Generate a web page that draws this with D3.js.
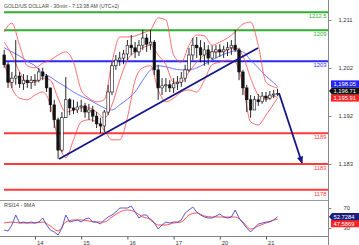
<!DOCTYPE html>
<html><head><meta charset="utf-8">
<script src="https://cdn.jsdelivr.net/npm/d3@7"></script>
<style>body{margin:0;background:#fff;} svg{display:block;font-family:"Liberation Sans",Arial,sans-serif;}</style>
</head><body><svg id="c" width="359" height="245"></svg>
<script>
const title = "GOLD/US DOLLAR - 30min - 7:13:38 AM (UTC+2)";
const rsiTitle = "RSI14 - 9MA";
const dayTicks = [0, 24, 48, 72, 96, 120];
const dayLabels = ["14", "15", "16", "17", "20", "21"];
const priceTicks = [1211, 1201.67, 1192.33, 1183];
const priceTickLabels = ["1,211", "1,202", "1,192", "1,183"];
const rsiTicks = [70, 30];
const rsiTickLabels = ["70", "30"];

const levels = [1212.5, 1209, 1203, 1189, 1183, 1178];
const levelLabels = ["1212.5", "1209", "1203", "1189", "1183", "1178"];
const levelKinds = ["res", "res", "pivot", "sup", "sup", "sup"];

const barTimes = [-16,-14,-12,-10,-8,-6,-4,-2,0,2,4,6,8,10,12,14,16,18,20,22,24,26,28,30,32,34,36,38,40,42,44,46,48,50,52,54,56,58,60,62,64,66,68,70,72,74,76,78,80,82,84,86,88,90,92,94,96,98,100,102,104,106,108,110,112,114,116,118,120,122,124,126];
const opens = [1204.2,1202.3,1198.9,1199.7,1200.1,1198.6,1199.3,1198.8,1199.3,1199.3,1200.9,1200.1,1197.8,1194.5,1191.6,1185.7,1192.0,1195.5,1193.9,1193.5,1194.1,1194.3,1193.1,1193.5,1192.3,1190.8,1190.4,1193.1,1197.0,1202.1,1203.2,1203.6,1204.4,1206.1,1205.6,1204.8,1206.1,1207.5,1206.3,1206.7,1201.3,1197.8,1198.2,1198.4,1197.8,1198.6,1198.9,1199.7,1201.3,1204.2,1206.1,1205.6,1204.2,1205.2,1203.6,1204.8,1205.2,1204.8,1205.2,1205.6,1206.1,1205.2,1200.9,1197.8,1195.5,1193.5,1195.5,1195.1,1196.2,1195.8,1196.4,1196.6];
const closes = [1202.3,1198.9,1199.7,1200.1,1198.6,1199.3,1198.8,1199.3,1199.3,1200.9,1200.1,1197.8,1194.5,1191.6,1185.7,1192.0,1195.5,1193.9,1193.5,1194.1,1194.3,1193.1,1193.5,1192.3,1190.8,1190.4,1193.1,1197.0,1202.1,1203.2,1203.6,1204.4,1206.1,1205.6,1204.8,1206.1,1207.5,1206.3,1206.7,1201.3,1197.8,1198.2,1198.4,1197.8,1198.6,1198.9,1199.7,1201.3,1204.2,1206.1,1205.6,1204.2,1205.2,1203.6,1204.8,1205.2,1204.8,1205.2,1205.6,1206.1,1205.2,1200.9,1197.8,1195.5,1193.5,1195.5,1195.1,1196.2,1195.8,1196.4,1196.6,1196.71];
const highs = [1205.2,1202.8,1200.9,1207.1,1200.9,1200.5,1200.3,1200.1,1200.5,1201.7,1201.7,1200.5,1197.8,1195.5,1192.0,1193.1,1199.9,1195.8,1195.5,1195.1,1195.5,1194.9,1194.7,1194.3,1193.1,1192.0,1193.5,1198.4,1202.8,1204.2,1204.8,1205.2,1207.1,1208.1,1206.7,1207.1,1209.1,1208.3,1209.1,1207.1,1202.3,1199.7,1199.7,1199.3,1199.7,1200.1,1200.9,1202.3,1205.6,1207.5,1207.7,1207.1,1206.7,1206.1,1206.0,1206.1,1206.3,1206.0,1206.7,1207.1,1209.1,1205.6,1201.3,1198.4,1196.4,1196.2,1196.6,1197.0,1197.0,1197.2,1197.4,1197.6];
const lows = [1201.7,1197.8,1197.8,1198.4,1197.8,1197.4,1197.8,1197.6,1198.2,1198.9,1199.3,1197.0,1193.1,1190.0,1184.0,1185.3,1192.0,1192.5,1192.7,1192.9,1193.1,1192.0,1191.6,1191.2,1190.0,1189.0,1189.2,1192.5,1196.4,1201.3,1202.1,1202.4,1203.2,1204.2,1203.6,1204.0,1205.2,1204.8,1205.2,1200.3,1195.5,1196.4,1197.0,1197.0,1196.8,1197.4,1198.0,1198.9,1200.9,1203.2,1203.6,1202.8,1202.1,1202.3,1203.2,1203.6,1203.8,1203.6,1204.0,1204.2,1204.8,1199.3,1196.4,1193.1,1192.0,1193.5,1194.3,1194.7,1195.1,1195.5,1195.8,1196.2];

const bandTimes = [-16,-12,-8,-4,0,4,8,12,16,20,24,28,32,36,40,44,48,52,56,60,64,68,72,76,80,84,88,92,96,100,104,108,112,116,120,124,126];
const bbUpper = [1208.7,1210.4,1206.1,1202.1,1201.7,1202.6,1203.2,1204.2,1204.8,1202.8,1197.4,1195.8,1195.1,1195.5,1202.8,1207.7,1207.7,1207.9,1208.5,1209.1,1211.4,1211.0,1204.2,1202.8,1206.1,1208.1,1207.9,1206.1,1206.7,1207.5,1208.7,1210.2,1210.6,1206.1,1198.9,1198.0,1197.8];
const bbMiddle = [1206.7,1204.2,1200.9,1198.9,1198.9,1199.7,1199.3,1195.8,1193.1,1193.5,1193.9,1193.9,1193.1,1191.9,1194.5,1199.3,1203.2,1204.8,1205.6,1206.1,1204.2,1202.3,1198.9,1198.9,1200.9,1202.8,1204.2,1204.8,1204.8,1205.2,1205.6,1204.0,1199.7,1196.4,1195.5,1196.2,1195.91];
const bbLower = [1202.8,1197.8,1195.8,1195.5,1196.4,1197.0,1194.5,1187.7,1184.2,1187.7,1191.2,1191.6,1191.2,1189.6,1187.7,1187.7,1192.0,1199.3,1201.7,1202.1,1197.4,1195.1,1195.8,1197.0,1197.4,1197.0,1199.3,1202.3,1202.8,1203.2,1202.8,1198.4,1191.2,1190.6,1192.5,1194.7,1195.8];
const maSlow = [1205.6,1204.8,1204.0,1203.0,1202.1,1200.7,1199.9,1198.9,1198.0,1197.0,1196.2,1195.5,1194.7,1193.9,1193.5,1194.5,1195.6,1197.0,1199.3,1201.3,1202.1,1201.9,1201.5,1201.3,1201.3,1201.7,1202.4,1203.2,1204.0,1204.6,1205.0,1204.8,1203.2,1201.7,1200.1,1198.8,1198.05];

const rsi = [26,24,36,56,40,42,40,42,40,42,50,36,26,22,16,30,56,42,44,46,42,48,50,42,42,38,46,52,56,62,70,70,70,74,62,50,56,56,46,40,28,36,42,40,42,42,46,60,66,72,62,56,52,50,50,54,58,52,50,52,66,50,40,30,22,30,38,40,42,42,46,52.7284];
const rsiMA = [40,42,40,40,40,42,34,24,42,46,46,44,42,42,52,62,66,62,52,48,36,36,40,42,56,60,54,52,52,52,52,42,28,34,40,46,47.5869];

const trendLine = [{t:12.5, p:1183.97}, {t:115.8, p:1205.56}];
const forecastArrow = [{t:126.75, p:1196.8}, {t:138.7, p:1183.2}];

const lastPrice = 1196.71, lastMA = 1198.05, lastMid = 1195.91;
const lastRSI = 52.7284, lastRSIMA = 47.5869;

// ---------- drawing ----------
const svg = d3.select("#c");
const plotR = 328;
const x = d3.scaleLinear().domain([-18.18, 152.21]).range([0, plotR]);
const y = d3.scaleLinear().domain([1176.0, 1214.89]).range([200, 0]);
const yr = d3.scaleLinear().domain([14, 86]).range([236, 200]);
const FONT = 5.8;
const colors = {res:"#2fae2f", pivot:"#2a2aff", sup:"#ff3b3b"};
const navy = "#15158a";

const defs = svg.append("defs");
defs.append("clipPath").attr("id","cm").append("rect").attr("x",0).attr("y",0).attr("width",plotR).attr("height",200);
defs.append("clipPath").attr("id","cr").append("rect").attr("x",0).attr("y",200).attr("width",plotR).attr("height",36);
defs.append("marker").attr("id","ah").attr("viewBox","0 0 10 10").attr("refX",9).attr("refY",5)
  .attr("markerWidth",8).attr("markerHeight",7).attr("markerUnits","userSpaceOnUse").attr("orient","auto")
  .append("path").attr("d","M0,0.5 L10,5 L0,9.5 Z").attr("fill",navy);

// title
svg.append("text").attr("x",4).attr("y",8.3).attr("font-size",6).attr("fill","#444")
  .attr("textLength",115).attr("lengthAdjust","spacingAndGlyphs").text(title);

const main = svg.append("g").attr("clip-path","url(#cm)");

// level lines
levels.forEach((v,i)=>{
  const c = colors[levelKinds[i]];
  main.append("line").attr("x1",4).attr("x2",plotR).attr("y1",y(v)).attr("y2",y(v))
    .attr("stroke",c).attr("stroke-width",2);
  svg.append("text").attr("x",plotR-1.5).attr("y",y(v)+6).attr("text-anchor","end")
    .attr("font-size",FONT).attr("fill",c).text(levelLabels[i]);
});

const bandData = arr => arr.map((v,i)=>({t:bandTimes[i], v}));
const lineP = d3.line().x(d=>x(d.t)).y(d=>y(d.v)).curve(d3.curveMonotoneX);

// slow MA
main.append("path").attr("d", lineP(bandData(maSlow))).attr("fill","none").attr("stroke","#6464ff").attr("stroke-width",0.9);
// Bollinger
[bbUpper, bbMiddle, bbLower].forEach(a=>{
  main.append("path").attr("d", lineP(bandData(a))).attr("fill","none").attr("stroke","#ff4a4a").attr("stroke-width",0.8);
});

// candles
const bars = barTimes.map((t,i)=>({t, o:opens[i], h:highs[i], l:lows[i], c:closes[i]}));
const cg = main.append("g");
cg.selectAll("line.w").data(bars).join("line").attr("class","w")
  .attr("x1",d=>x(d.t)).attr("x2",d=>x(d.t)).attr("y1",d=>y(d.h)).attr("y2",d=>y(d.l))
  .attr("stroke","#111").attr("stroke-width",0.9);
cg.selectAll("rect").data(bars).join("rect")
  .attr("x",d=>x(d.t)-1.3).attr("width",2.6)
  .attr("y",d=>y(Math.max(d.o,d.c))).attr("height",d=>Math.max(0.8, Math.abs(y(d.o)-y(d.c))))
  .attr("fill",d=>d.c>=d.o?"#fff":"#111").attr("stroke","#111").attr("stroke-width",0.6);

// trend line & forecast arrow
main.append("line").attr("x1",x(trendLine[0].t)).attr("y1",y(trendLine[0].p))
  .attr("x2",x(trendLine[1].t)).attr("y2",y(trendLine[1].p)).attr("stroke",navy).attr("stroke-width",1.8);
main.append("line").attr("x1",x(forecastArrow[0].t)).attr("y1",y(forecastArrow[0].p))
  .attr("x2",x(forecastArrow[1].t)).attr("y2",y(forecastArrow[1].p)).attr("stroke",navy).attr("stroke-width",1.8)
  .attr("marker-end","url(#ah)");

// panel frame lines
svg.append("line").attr("x1",0).attr("x2",plotR).attr("y1",200.5).attr("y2",200.5).attr("stroke","#999").attr("stroke-width",1);
svg.append("line").attr("x1",0).attr("x2",plotR).attr("y1",236.5).attr("y2",236.5).attr("stroke","#888").attr("stroke-width",1);
svg.append("line").attr("x1",plotR+0.5).attr("x2",plotR+0.5).attr("y1",0).attr("y2",245).attr("stroke","#888").attr("stroke-width",1);

// right price axis
const ay = svg.append("g").attr("transform",`translate(${plotR+0.5},0)`)
  .call(d3.axisRight(y).tickValues(priceTicks).tickSize(3).tickPadding(7).tickFormat((d,i)=>priceTickLabels[i]));
ay.select(".domain").remove();
ay.selectAll("line").attr("stroke","#888");
ay.selectAll("text").attr("font-size",FONT).attr("fill","#333").attr("font-family","Liberation Sans, Arial, sans-serif");

// rsi axis
const ar = svg.append("g").attr("transform",`translate(${plotR+0.5},0)`)
  .call(d3.axisRight(yr).tickValues(rsiTicks).tickSize(3).tickPadding(12).tickFormat((d,i)=>rsiTickLabels[i]));
ar.select(".domain").remove();
ar.selectAll("line").attr("stroke","#888");
ar.selectAll("text").attr("font-size",FONT).attr("fill","#333").attr("font-family","Liberation Sans, Arial, sans-serif");

// bottom time axis
const ax = svg.append("g").attr("transform","translate(0,236.5)")
  .call(d3.axisBottom(x).tickValues(dayTicks).tickSize(3).tickPadding(1).tickFormat((d,i)=>dayLabels[i]));
ax.select(".domain").remove();
ax.selectAll("line").attr("stroke","#555");
ax.selectAll("text").attr("font-size",FONT).attr("fill","#333").attr("text-anchor","start").attr("dx",1.5)
  .attr("font-family","Liberation Sans, Arial, sans-serif");

// RSI panel
svg.append("text").attr("x",4).attr("y",206.8).attr("font-size",5.4).attr("fill","#444")
  .attr("textLength",31).attr("lengthAdjust","spacingAndGlyphs").text(rsiTitle);
const rg = svg.append("g").attr("clip-path","url(#cr)");
const lineR = d3.line().x(d=>x(d.t)).y(d=>yr(d.v));
rg.append("path").attr("d", lineR.curve(d3.curveMonotoneX)(rsiMA.map((v,i)=>({t:bandTimes[i], v}))))
  .attr("fill","none").attr("stroke","#ff3b3b").attr("stroke-width",0.9);
rg.append("path").attr("d", d3.line().x(d=>x(d.t)).y(d=>yr(d.v))(rsi.map((v,i)=>({t:barTimes[i], v}))))
  .attr("fill","none").attr("stroke","#4646c8").attr("stroke-width",0.9);

// value boxes
function box(cy, txt, fill, pointer){
  const g = svg.append("g");
  if(pointer){
    g.append("path").attr("d",`M${plotR+1},${cy} L${plotR+4},${cy-3.6} L359,${cy-3.6} L359,${cy+3.6} L${plotR+4},${cy+3.6} Z`).attr("fill",fill);
  } else {
    g.append("rect").attr("x",plotR+3).attr("y",cy-3.6).attr("width",359-plotR-3).attr("height",7.2).attr("fill",fill);
  }
  g.append("text").attr("x",plotR+5.5).attr("y",cy+2.1).attr("font-size",FONT).attr("fill","#fff").text(txt);
}
const fmt = d3.format(",.2f");
const cyPrice = y(lastPrice) - 2.5;
box(cyPrice - 7, fmt(lastMA), "#2323ff", false);
box(cyPrice + 7, fmt(lastMid), "#ff2222", false);
box(cyPrice, fmt(lastPrice), "#111", true);
const cyR = yr(lastRSI);
box(cyR + 7, d3.format(".4f")(lastRSIMA), "#ff2222", false);
box(cyR, d3.format(".4f")(lastRSI), "#1b1b80", true);
</script></body></html>
